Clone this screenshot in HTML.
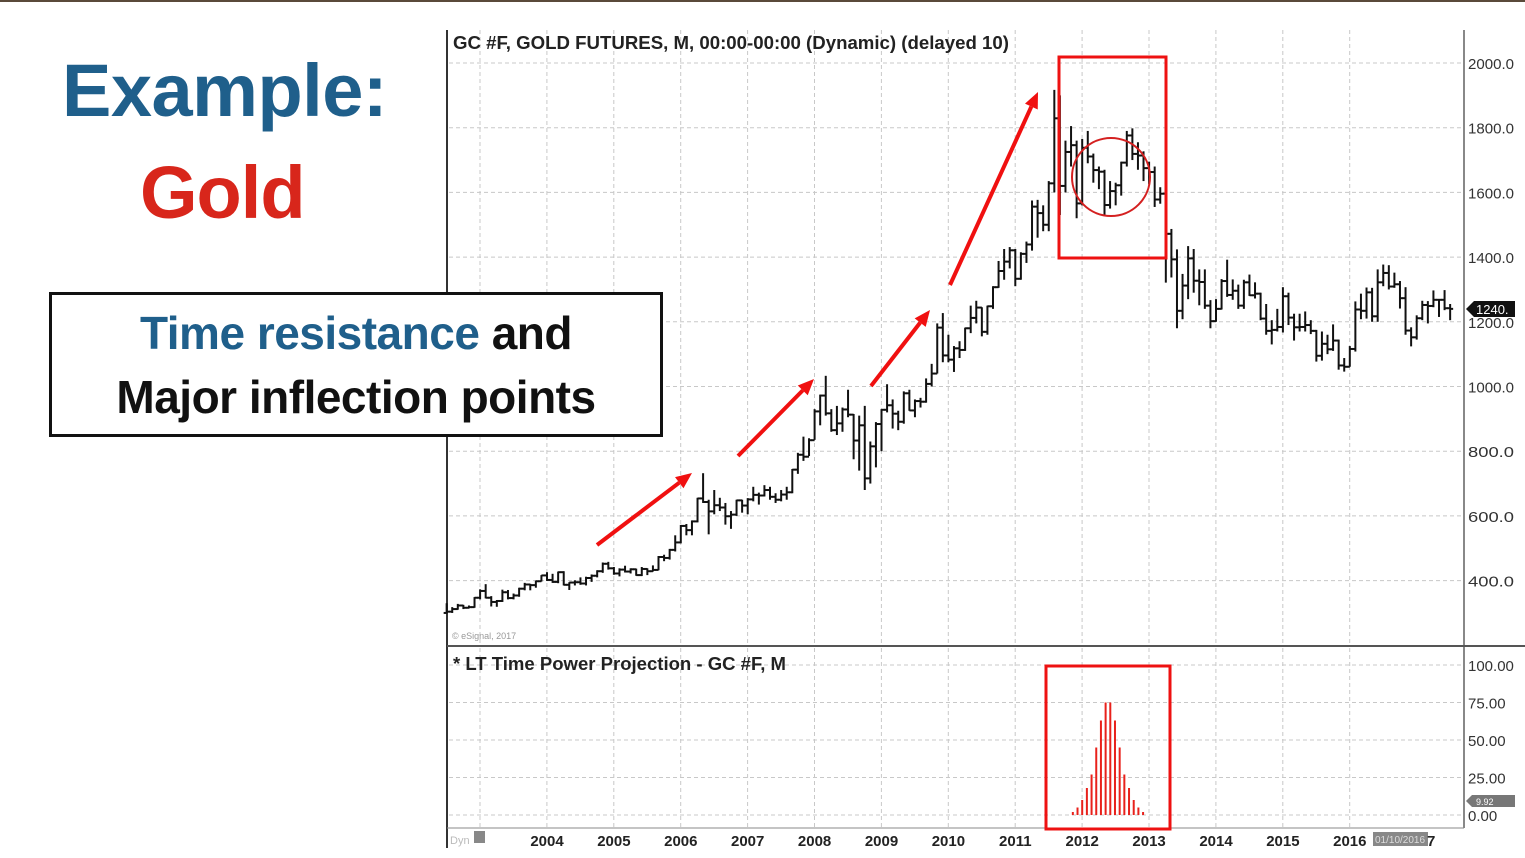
<!DOCTYPE html>
<html><head><meta charset="utf-8">
<style>
html,body{margin:0;padding:0;background:#fff;width:1525px;height:858px;overflow:hidden;font-family:"Liberation Sans",sans-serif}
#topline{position:absolute;left:0;top:0;width:1525px;height:2px;background:#5a4a3a}
.t1{position:absolute;left:62px;top:48px;font-size:74px;font-weight:bold;color:#1f5f8b;letter-spacing:-0.5px}
.t2{position:absolute;left:140px;top:150px;font-size:74px;font-weight:bold;color:#d8261b;letter-spacing:-1px}
#box{position:absolute;z-index:2;background:#fff;left:49px;top:292px;width:608px;height:139px;border:3px solid #111;text-align:center;font-weight:bold;font-size:46px;line-height:64px;color:#111;letter-spacing:-0.5px}
#box .b{color:#1f5f8b}
svg{position:absolute;left:0;top:0;z-index:1}
</style></head><body>
<div id="topline"></div>
<div class="t1">Example:</div>
<div class="t2">Gold</div>
<div id="box"><div style="margin-top:6px"><span class="b">Time resistance</span> and</div><div>Major inflection points</div></div>
<svg id="chart" width="1525" height="858"></svg>
<script>
const startYear = 2002.5;
const closes = [304,312,323,316,318,347,
368,347,334,337,364,346,354,375,388,386,398,416,
402,396,426,387,394,395,391,408,415,429,452,438,
422,434,428,435,417,436,429,433,473,470,495,518,
569,556,583,654,643,614,633,626,599,604,648,632,
651,665,663,680,659,650,666,673,743,789,783,834,
923,972,917,865,886,929,913,833,880,716,815,884,
928,942,916,891,979,926,955,953,1008,1040,1182,1096,
1083,1118,1113,1180,1212,1244,1169,1248,1307,1357,1386,1421,
1333,1410,1439,1556,1536,1500,1628,1829,1620,1725,1746,1566,
1738,1711,1669,1664,1561,1604,1622,1692,1776,1719,1714,1675,
1663,1578,1596,1472,1393,1234,1312,1396,1327,1323,1250,1202,
1240,1326,1283,1296,1250,1322,1282,1287,1210,1172,1175,1184,
1279,1213,1183,1184,1190,1172,1095,1132,1115,1142,1065,1061,
1116,1238,1234,1291,1217,1322,1351,1309,1316,1273,1173,1152,
1211,1252,1249,1268,1268,1242,1240];
const highs = [330,318,328,325,323,349,
373,389,352,340,372,371,360,378,393,390,400,417,
426,421,428,429,395,401,410,412,419,432,456,458,
442,438,446,438,437,442,438,447,476,480,498,540,
572,575,586,656,732,650,680,656,640,615,650,650,
655,690,672,695,690,670,680,690,745,795,845,840,
930,975,1033,930,940,935,990,915,910,940,830,890,
930,1007,960,925,985,990,960,965,1025,1070,1195,1227,
1160,1125,1140,1182,1250,1265,1245,1250,1310,1388,1425,1431,
1425,1415,1448,1575,1577,1560,1635,1917,1900,1760,1805,1760,
1765,1790,1720,1680,1670,1635,1630,1695,1790,1798,1755,1727,
1695,1680,1616,1600,1487,1424,1348,1434,1425,1362,1362,1267,
1270,1332,1392,1331,1315,1330,1346,1322,1290,1255,1205,1240,
1307,1290,1225,1225,1232,1205,1175,1170,1160,1192,1145,1088,
1125,1263,1287,1306,1305,1362,1377,1375,1352,1326,1307,1183,
1220,1265,1264,1297,1270,1298,1255];
const lows = [298,300,310,312,314,316,
342,345,320,319,334,342,342,350,370,370,378,397,
399,393,392,385,371,385,387,385,396,410,424,434,
418,413,425,422,415,414,417,428,432,460,465,490,
515,540,540,580,640,543,605,615,573,560,600,610,
605,645,635,660,650,640,645,650,670,730,770,785,
835,880,910,860,850,860,905,775,740,680,700,750,
800,920,870,865,885,925,905,935,950,1000,1040,1075,
1075,1045,1088,1110,1165,1195,1155,1160,1240,1305,1330,1365,
1310,1330,1382,1420,1460,1480,1480,1600,1530,1600,1680,1520,
1560,1690,1630,1610,1530,1550,1560,1590,1680,1700,1670,1635,
1625,1555,1565,1321,1337,1180,1208,1270,1290,1251,1240,1180,
1200,1238,1277,1268,1240,1240,1280,1272,1205,1160,1130,1170,
1167,1190,1142,1170,1170,1162,1077,1080,1100,1110,1052,1046,
1061,1108,1208,1210,1200,1200,1310,1300,1305,1241,1160,1124,
1145,1205,1195,1245,1215,1236,1205];
const projDates = [2011.86,2011.93,2012.0,2012.07,2012.14,2012.21,2012.28,2012.35,2012.42,2012.49,2012.56,2012.63,2012.70,2012.77,2012.84,2012.91];
const projValues = [2,5,10,18,27,45,63,75,75,63,45,27,18,10,5,2];
const priceTicks = [400,600,800,1000,1200,1400,1600,1800,2000];
const projTicks = [0,25,50,75,100];
const yearLabels = [2004,2005,2006,2007,2008,2009,2010,2011,2012,2013,2014,2015,2016,2017];

const X = t => 547 + (t - 2004) * 66.9;
const Y = p => 63 + (2000 - p) * 0.3235;
const YP = v => 815 - v * 1.5;
const NS = 'http://www.w3.org/2000/svg';
const svg = document.getElementById('chart');
function mk(tag, attrs, name, inter, parent) {
  const e = document.createElementNS(NS, tag);
  for (const k in attrs) e.setAttribute(k, attrs[k]);
  
  
  (parent || svg).appendChild(e);
  return e;
}
priceTicks.forEach(p => {
  mk('line', {x1:449,x2:1463,y1:Y(p),y2:Y(p),stroke:'#c8c8c8','stroke-dasharray':'4,3'}, 'price-gridline', false);
  const t = mk('text', {x:1468,y:Y(p)+6,'font-size':15,fill:'#333',textLength:46,lengthAdjust:'spacingAndGlyphs'}, 'price-tick-label', false);
  t.textContent = p.toFixed(1);
});
projTicks.forEach(v => {
  mk('line', {x1:449,x2:1463,y1:YP(v),y2:YP(v),stroke:'#c8c8c8','stroke-dasharray':'4,3'}, 'projection-gridline', false);
  const t = mk('text', {x:1468,y:YP(v)+6,'font-size':15,fill:'#333'}, 'projection-tick-label', false);
  t.textContent = v.toFixed(2);
});
yearLabels.forEach(y => {
  const x = X(y);
  if (x < 1460) {
    mk('line', {x1:x-67,x2:x-67,y1:30,y2:645,stroke:'#c8c8c8','stroke-dasharray':'4,3'}, 'year-gridline', false);
    mk('line', {x1:x-67,x2:x-67,y1:648,y2:828,stroke:'#c8c8c8','stroke-dasharray':'4,3'}, 'year-gridline', false);
  }
  if (y <= 2016) {
    const t = mk('text', {x:x,y:846,'font-size':15,'font-weight':'bold','text-anchor':'middle',fill:'#222'}, 'year-label', false);
    t.textContent = y;
  }
});
mk('line', {x1:447,x2:447,y1:30,y2:848,stroke:'#333','stroke-width':2}, 'chart-left-border', false);
mk('line', {x1:1464,x2:1464,y1:30,y2:828,stroke:'#888','stroke-width':2}, 'price-axis-line', false);
mk('line', {x1:447,x2:1525,y1:646,y2:646,stroke:'#555','stroke-width':2}, 'pane-separator', false);
mk('line', {x1:447,x2:1464,y1:828,y2:828,stroke:'#888','stroke-width':1}, 'time-axis-line', false);
let tt = mk('text', {x:453,y:49,'font-size':18,'font-weight':'bold',fill:'#222',textLength:556,lengthAdjust:'spacingAndGlyphs'}, 'chart-title', false);
tt.textContent = 'GC #F, GOLD FUTURES, M, 00:00-00:00 (Dynamic) (delayed 10)';
tt = mk('text', {x:453,y:670,'font-size':18,'font-weight':'bold',fill:'#222',textLength:333,lengthAdjust:'spacingAndGlyphs'}, 'projection-title', false);
tt.textContent = '* LT Time Power Projection - GC #F, M';
tt = mk('text', {x:452,y:639,'font-size':9,fill:'#999'}, 'esignal-watermark', false);
tt.textContent = '© eSignal, 2017';
tt = mk('text', {x:450,y:844,'font-size':11,fill:'#bbb'}, 'dyn-label', false);
tt.textContent = 'Dyn';
mk('rect', {x:474,y:831,width:11,height:12,fill:'#888'}, 'dyn-icon', true);
const g = mk('g', {stroke:'#111','stroke-width':2}, 'price-bars', false);
let prev = closes[0];
closes.forEach((c, i) => {
  const x = X(startYear + i / 12);
  const o = i === 0 ? lows[0] + 2 : prev;
  mk('line', {x1:x,x2:x,y1:Y(highs[i]),y2:Y(lows[i])}, 'ohlc-bar', false, g);
  mk('line', {x1:x-3,x2:x,y1:Y(o),y2:Y(o)}, 'ohlc-open-tick', false, g);
  mk('line', {x1:x,x2:x+3,y1:Y(c),y2:Y(c)}, 'ohlc-close-tick', false, g);
  prev = c;
});
projDates.forEach((d, i) => {
  mk('line', {x1:X(d),x2:X(d),y1:YP(0),y2:YP(projValues[i]),stroke:'#e8211b','stroke-width':2}, 'projection-bar', false);
});
mk('path', {d:'M1466,309 L1474,301 L1515,301 L1515,317 L1474,317 Z',fill:'#111'}, 'last-price-tag', false);
tt = mk('text', {x:1476,y:314,'font-size':13,fill:'#fff'}, 'last-price-value', false);
tt.textContent = '1240.';
mk('path', {d:'M1466,801 L1472,795 L1515,795 L1515,807 L1472,807 Z',fill:'#777'}, 'projection-value-tag', false);
tt = mk('text', {x:1476,y:805,'font-size':9,fill:'#fff'}, 'projection-value', false);
tt.textContent = '9.92';
mk('rect', {x:1373,y:832,width:55,height:14,fill:'#888'}, 'cursor-date-tag', false);
tt = mk('text', {x:1375,y:843,'font-size':10,fill:'#ddd'}, 'cursor-date', false);
tt.textContent = '01/10/2016';
tt = mk('text', {x:1427,y:846,'font-size':15,'font-weight':'bold',fill:'#222'}, 'year-label-2017', false);
tt.textContent = '7';
const arrows = [[597,545,692,473],[738,456,814,379],[871,386,930,310],[950,285,1038,92]];
arrows.forEach(a => {
  const [x1,y1,x2,y2] = a;
  const ang = Math.atan2(y2-y1, x2-x1);
  const L = 16, W = 7;
  const bx = x2 - L*Math.cos(ang), by = y2 - L*Math.sin(ang);
  mk('line', {x1:x1,y1:y1,x2:bx,y2:by,stroke:'#f01010','stroke-width':4}, 'trend-arrow', false);
  mk('polygon', {points:`${x2},${y2} ${bx+W*Math.sin(ang)},${by-W*Math.cos(ang)} ${bx-W*Math.sin(ang)},${by+W*Math.cos(ang)}`, fill:'#f01010'}, 'trend-arrowhead', false);
});
mk('rect', {x:1059,y:57,width:107,height:201,fill:'none',stroke:'#ee1111','stroke-width':3}, 'top-highlight-box', false);
mk('rect', {x:1046,y:666,width:124,height:163,fill:'none',stroke:'#ee1111','stroke-width':3}, 'bottom-highlight-box', false);
mk('circle', {cx:1111,cy:177,r:39,fill:'none',stroke:'#d42020','stroke-width':2}, 'top-circle', false);
</script>
</body></html>
